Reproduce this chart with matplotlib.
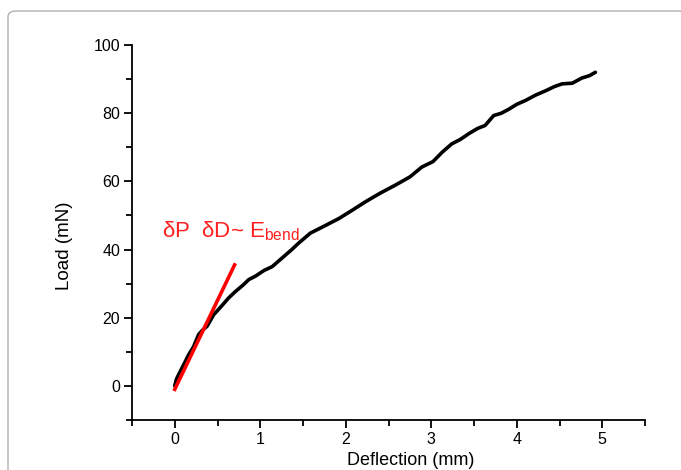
import matplotlib
matplotlib.use("Agg")
import matplotlib.pyplot as plt
from matplotlib.patches import FancyBboxPatch
from matplotlib.ticker import MultipleLocator

plt.rcParams['font.family'] = ['Liberation Sans', 'DejaVu Sans']

deflection = [0.0, 0.02, 0.047, 0.10, 0.164, 0.22, 0.28, 0.33, 0.378, 0.456, 0.55, 0.63,
              0.71, 0.80, 0.866, 0.944, 1.04, 1.14, 1.25, 1.36, 1.45, 1.585, 1.75, 1.92,
              2.08, 2.23, 2.40, 2.58, 2.75, 2.89, 3.02, 3.13, 3.24, 3.34, 3.44, 3.54, 3.63,
              3.73, 3.82, 3.91, 4.00, 4.10, 4.22, 4.34, 4.44, 4.53, 4.65, 4.76, 4.85, 4.92]
load = [0.0, 2.0, 3.4, 6.0, 9.2, 11.5, 15.1, 16.5, 17.5, 20.9, 23.5, 25.8,
        27.7, 29.6, 31.2, 32.2, 33.8, 35.0, 37.4, 39.8, 41.9, 44.8, 46.9, 49.1,
        51.6, 54.0, 56.5, 58.9, 61.3, 64.2, 65.8, 68.6, 71.0, 72.3, 74.0, 75.5, 76.4,
        79.3, 80.0, 81.2, 82.6, 83.7, 85.3, 86.6, 87.8, 88.6, 88.8, 90.3, 91.0, 92.0]

fit_x = [0.0, 0.70]
fit_y = [-1.0, 35.5]

fig = plt.figure(figsize=(6.81, 4.70), dpi=100)
border = FancyBboxPatch((8/681, -0.2), 1.0, 1.2 - 11/470,
                        boxstyle="round,pad=0,rounding_size=0.012",
                        transform=fig.transFigure, facecolor='none',
                        edgecolor='#b0b0b0', linewidth=1.0, zorder=-5)
fig.patches.append(border)

ax = fig.add_axes([132/681, 1 - 420/470, (645 - 132)/681, (420 - 45)/470])
ax.patch.set_alpha(0)
ax.plot(deflection, load, color='black', linewidth=2.6, solid_capstyle='round', zorder=3)
ax.plot(fit_x, fit_y, color='#ff0000', linewidth=2.6, zorder=4)

ax.text(-0.15, 43.5, 'δP  δD~ E$_{\\mathregular{bend}}$', color='#ff2020', fontsize=16,
        va='baseline', ha='left')

ax.set_xlim(-0.5, 5.5)
ax.set_ylim(-10, 100)
ax.xaxis.set_major_locator(MultipleLocator(1))
ax.xaxis.set_minor_locator(MultipleLocator(0.5))
ax.yaxis.set_major_locator(MultipleLocator(20))
ax.yaxis.set_minor_locator(MultipleLocator(10))
for s in ['top', 'right']:
    ax.spines[s].set_visible(False)
for s in ['left', 'bottom']:
    ax.spines[s].set_linewidth(1.3)
ax.tick_params(which='major', direction='out', length=6, width=1.3, labelsize=11.5, pad=2.5)
ax.tick_params(which='minor', direction='out', length=4, width=1.3)
ax.set_xlabel('Deflection (mm)', fontsize=13)
ax.set_ylabel('Load (mN)', fontsize=13.5)
ax.xaxis.set_label_coords(0.544, -0.085)
ax.yaxis.set_label_coords(-0.115, 0.464)

fig.savefig('out.png', dpi=100)
